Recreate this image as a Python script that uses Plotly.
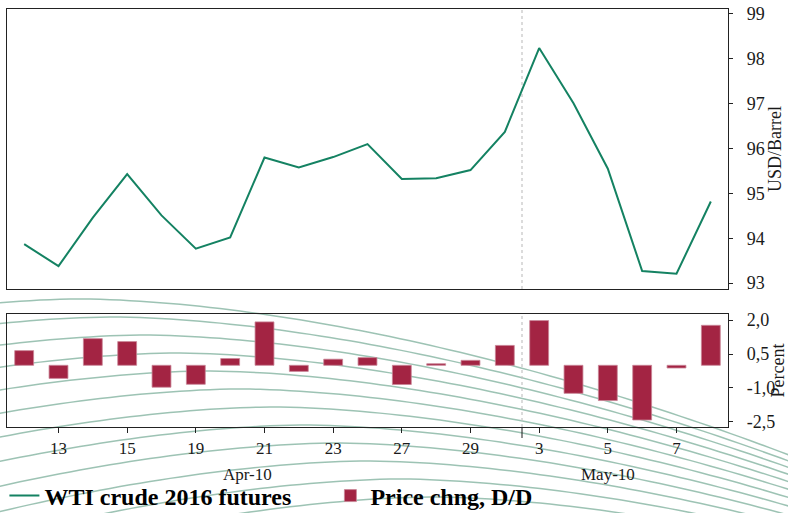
import plotly.graph_objects as go

# ---------------- data ----------------
dates = ["2010-04-12", "2010-04-13", "2010-04-14", "2010-04-15", "2010-04-16",
         "2010-04-19", "2010-04-20", "2010-04-21", "2010-04-22", "2010-04-23",
         "2010-04-26", "2010-04-27", "2010-04-28", "2010-04-29", "2010-04-30",
         "2010-05-03", "2010-05-04", "2010-05-05", "2010-05-06", "2010-05-07",
         "2010-05-10"]
wti_price = [93.87, 93.38, 94.46, 95.43, 94.51, 93.77, 94.02, 95.80, 95.58, 95.81,
             96.10, 95.32, 95.34, 95.52, 96.37, 98.24, 97.01, 95.55, 93.27, 93.21,
             94.82]
price_chng = [0.65, -0.58, 1.18, 1.05, -0.97, -0.84, 0.30, 1.92, -0.27, 0.27,
              0.34, -0.85, 0.07, 0.22, 0.88, 1.98, -1.24, -1.56, -2.42, -0.12,
              1.77]
price_ticks = [93, 94, 95, 96, 97, 98, 99]
price_grid = [94, 95, 96, 97, 98]
chng_ticks = [2.0, 0.5, -1.0, -2.5]
chng_ticktext = ["2,0", "0,5", "-1,0", "-2,5"]
chng_grid = [0.5, -1.0]
month_labels = ["Apr-10", "May-10"]
month_label_pos = [6.5, 17.0]
month_break = 14.5

x_idx = list(range(len(dates)))
tick_idx = x_idx[1::2]
tick_text = [str(int(dates[i][-2:])) for i in tick_idx]

LINE_C = "#148262"
BAR_C = "#a32443"
FONT = "Liberation Serif"
TXT = "#1a1a1a"
GRID = "#c4c4c4"

fig = go.Figure()
fig.add_trace(go.Scatter(x=x_idx, y=wti_price, mode="lines", name="WTI crude 2016 futures",
                         line=dict(color=LINE_C, width=2), xaxis="x", yaxis="y"))
fig.add_trace(go.Bar(x=x_idx, y=price_chng, name="Price chng, D/D", width=0.55,
                     marker=dict(color=BAR_C, line=dict(color="#c98597", width=0.8)),
                     xaxis="x2", yaxis="y2"))

# ---------------- decorative background arcs ----------------
W, H = 788, 513
ML, MR, MT, MB = 7, 60, 9, 86
PW, PH = W - ML - MR, H - MT - MB


def px2paper(px, py):
    return (px - ML) / PW, (H - MB - py) / PH


shapes = []
for k in range(14):
    xp = 80 + 32 * k
    yp = 299 + 18 * k
    pts = []
    for xx in range(-10, 810, 10):
        yy = yp + 0.00195 * abs(xx - xp) ** 1.72
        pts.append(px2paper(xx, yy))
    d = "M " + " L ".join(f"{a:.4f},{b:.4f}" for a, b in pts)
    shapes.append(dict(type="path", path=d, xref="paper", yref="paper", layer="below",
                       line=dict(color="rgba(60,135,105,0.5)", width=1.5)))

# month separator lines
shapes.append(dict(type="line", xref="x", yref="y domain", x0=month_break, x1=month_break,
                   y0=0, y1=1, line=dict(color=GRID, width=1.2, dash="3px,3px"), layer="below"))
shapes.append(dict(type="line", xref="x2", yref="y2 domain", x0=month_break, x1=month_break,
                   y0=0, y1=1, line=dict(color=GRID, width=1.2, dash="3px,3px"), layer="below"))
shapes.append(dict(type="line", xref="x2", yref="paper", x0=month_break, x1=month_break,
                   y0=0, y1=-11 / PH, line=dict(color=TXT, width=1)))

annotations = []
for lab, pos in zip(month_labels, month_label_pos):
    annotations.append(dict(text=lab, x=pos, xref="x2", y=(H - MB - 474) / PH, yref="paper",
                            showarrow=False, xanchor="center", yanchor="middle",
                            font=dict(family=FONT, size=17, color=TXT)))

top_dom = [(H - MB - 289) / PH, 1.0]
bot_dom = [0.0, (H - MB - 314) / PH]
xr = [-0.5, len(dates) - 0.5]
yr1 = [92.87, 99.11]
yr2 = [-2.73, 2.27]

axis_font = dict(family=FONT, size=18, color=TXT)

fig.update_layout(
    width=W, height=H,
    margin=dict(l=ML, r=MR, t=MT, b=MB, autoexpand=False),
    paper_bgcolor="white", plot_bgcolor="rgba(0,0,0,0)",
    shapes=shapes, annotations=annotations,
    showlegend=True,
    legend=dict(orientation="h", x=-0.0036, xanchor="left", y=(H - MB - 496) / PH,
                yanchor="middle", font=dict(family=FONT, size=24, color="black", weight="bold"),
                bgcolor="rgba(0,0,0,0)", itemwidth=30, entrywidth=281, entrywidthmode="pixels"),
    xaxis=dict(domain=[0, 1], anchor="y", range=xr, showline=True, mirror=True,
               linecolor="#222", linewidth=1.3, showgrid=False, zeroline=False,
               ticks="", showticklabels=False),
    yaxis=dict(domain=top_dom, anchor="x", side="right", range=yr1, tickvals=price_ticks,
               ticktext=[str(v) for v in price_ticks],
               showline=True, mirror=True, linecolor="#222", linewidth=1.3,
               ticks="outside", ticklen=4, tickcolor="#222", showgrid=False, zeroline=False,
               tickfont=axis_font, ticklabelstandoff=10,
               title=dict(text="USD/Barrel", font=axis_font, standoff=4)),
    yaxis3=dict(overlaying="y", side="right", range=yr1, tickvals=price_grid,
                showticklabels=False, ticks="", showgrid=True, gridcolor=GRID,
                griddash="4px,3px", gridwidth=1, zeroline=False, showline=False),
    xaxis2=dict(domain=[0, 1], anchor="y2", range=xr, showline=True, mirror=True,
                linecolor="#222", linewidth=1.3, showgrid=False, zeroline=False,
                tickmode="array", tickvals=tick_idx, ticktext=tick_text,
                ticks="outside", ticklen=5, tickcolor="#222", tickfont=dict(family=FONT, size=17, color=TXT)),
    yaxis2=dict(domain=bot_dom, anchor="x2", side="right", range=yr2, tickvals=chng_ticks,
                ticktext=chng_ticktext, showline=True, mirror=True, linecolor="#222",
                linewidth=1.3, ticks="outside", ticklen=4, tickcolor="#222", showgrid=False,
                zeroline=False, tickfont=axis_font, ticklabelstandoff=10,
                title=dict(text="Percent", font=axis_font, standoff=5)),
    yaxis4=dict(overlaying="y2", side="right", range=yr2, tickvals=chng_grid,
                showticklabels=False, ticks="", showgrid=True, gridcolor=GRID,
                griddash="4px,3px", gridwidth=1, zeroline=False, showline=False),
)

fig.write_html("out.html", config={"displayModeBar": False},
               post_script="document.body.style.margin='0px';")
